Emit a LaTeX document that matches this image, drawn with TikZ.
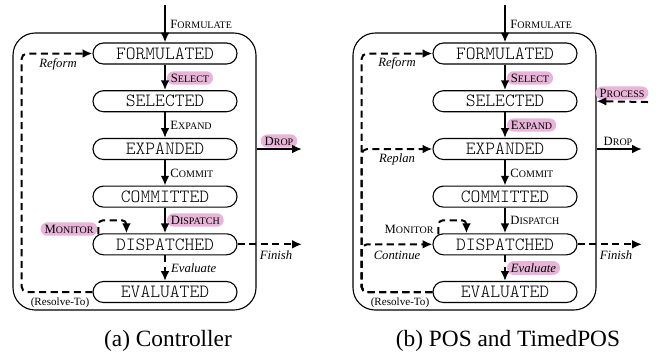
\documentclass[tikz,border=0pt]{standalone}
\usepackage{fontspec}
\setmainfont{Liberation Serif}
\newfontfamily\statefont{Latin Modern Mono Light}
\usetikzlibrary{arrows.meta,calc}
\definecolor{hlpink}{RGB}{232,180,216}
\newcommand\fsc[2]{{\fontsize{5.7}{6.5}\selectfont #1\fontsize{4.5}{5}\selectfont #2}}
\begin{document}
\begin{tikzpicture}[x=0.45pt,y=-0.45pt,
 state/.style={draw, line width=0.5pt, rounded corners=4.7pt, minimum width=64.8pt, minimum height=9.45pt, inner sep=0pt, font=\statefont\fontsize{8.4}{9}\selectfont},
 outerbox/.style={draw, line width=0.5pt, rounded corners=10pt, minimum width=109.35pt, minimum height=124.65pt, inner sep=0pt},
 arr/.style={line width=0.9pt, -{Latex[length=4.4pt,width=3.9pt]}},
 darr/.style={arr, dash pattern=on 3.2pt off 2pt},
 lbl/.style={inner xsep=1.8pt, inner ysep=1.1pt, rounded corners=3pt},
 hl/.style={lbl, fill=hlpink},
 itl/.style={font=\itshape\fontsize{5.7}{6.5}\selectfont, inner sep=1pt},
 tiny/.style={font=\fontsize{5}{6}\selectfont, inner sep=1pt},
 capt/.style={font=\fontsize{10.5}{12}\selectfont, anchor=base}
]
\useasboundingbox (0,0) rectangle (665,353);

% ---------------- panel (a) ----------------
\node[outerbox] (aBox) at (134.5,171.5) {};
\node[state] (aF) at (165,53.5) {FORMULATED};
\node[state] (aS) at (165,101.2) {SELECTED};
\node[state] (aX) at (165,149) {EXPANDED};
\node[state] (aC) at (165,196.6) {COMMITTED};
\node[state] (aD) at (165,244.3) {DISPATCHED};
\node[state] (aE) at (165,292) {EVALUATED};
\coordinate (aTop) at (165,5);
\coordinate (aL) at (21.5,0);
\coordinate (aDrop) at (302,149);
\coordinate (aFin) at (302,244.3);

\node[lbl, anchor=west] (aLf) at (166,24) {\fsc{F}{ORMULATE}};
\node[hl, anchor=west] (aLs) at (166.5,78) {\fsc{S}{ELECT}};
\node[lbl, anchor=west] (aLx) at (166,125) {\fsc{E}{XPAND}};
\node[lbl, anchor=west] (aLc) at (166,173) {\fsc{C}{OMMIT}};
\node[hl, anchor=west] (aLd) at (166.5,220) {\fsc{D}{ISPATCH}};
\node[itl, anchor=west] (aLe) at (168.5,268) {Evaluate};
\node[hl] (aLdrop) at (279,141) {\fsc{D}{ROP}};
\node[hl] (aLm) at (69,229) {\fsc{M}{ONITOR}};
\node[itl] (aLr) at (58,64) {Reform};
\node[itl] (aLfin) at (276,255) {Finish};
\node[tiny] (aLres) at (60,303) {(Resolve-To)};

\draw[arr] (aTop) -- (aF);
\draw[arr] (aF) -- (aS);
\draw[arr] (aS) -- (aX);
\draw[arr] (aX) -- (aC);
\draw[arr] (aC) -- (aD);
\draw[darr] (aD) -- (aE);
\draw[arr] (aBox.east |- aX) -- (aDrop);
\draw[darr] (aD.east) -- (aFin);
\draw[darr, rounded corners=2.5pt] (aE.west) -- (aE.west -| aL) -- (aF.west -| aL) -- (aF.west);
\draw[darr, rounded corners=2pt] ($(aD.north west)+(6,1)$) -- ++(0,-14) -- ($(aD.north west)+(34,-13)$) -- ($(aD.north west)+(34,0)$);

\node[capt] (aCap) at (168,346.5) {(a) Controller};

% ---------------- panel (b) ----------------
\begin{scope}[shift={(340,0)}]
\node[outerbox] (bBox) at (134.5,171.5) {};
\node[state] (bF) at (165,53.5) {FORMULATED};
\node[state] (bS) at (165,101.2) {SELECTED};
\node[state] (bX) at (165,149) {EXPANDED};
\node[state] (bC) at (165,196.6) {COMMITTED};
\node[state] (bD) at (165,244.3) {DISPATCHED};
\node[state] (bE) at (165,292) {EVALUATED};
\coordinate (bTop) at (165,5);
\coordinate (bL) at (21.5,0);
\coordinate (bDrop) at (302,149);
\coordinate (bFin) at (302,244.3);
\coordinate (bProc) at (308,102);

\node[lbl, anchor=west] (bLf) at (166,24) {\fsc{F}{ORMULATE}};
\node[hl, anchor=west] (bLs) at (166.5,78) {\fsc{S}{ELECT}};
\node[hl, anchor=west] (bLx) at (166.5,125) {\fsc{E}{XPAND}};
\node[lbl, anchor=west] (bLc) at (166,173) {\fsc{C}{OMMIT}};
\node[lbl, anchor=west] (bLd) at (166,220) {\fsc{D}{ISPATCH}};
\node[hl, anchor=west, font=\itshape\fontsize{5.7}{6.5}\selectfont] (bLe) at (166.5,268) {Evaluate};
\node[lbl] (bLdrop) at (278,141) {\fsc{D}{ROP}};
\node[hl] (bLp) at (282,93) {\fsc{P}{ROCESS}};
\node[lbl] (bLm) at (69,229) {\fsc{M}{ONITOR}};
\node[itl] (bLr) at (57,63) {Reform};
\node[itl] (bLrp) at (57,159) {Replan};
\node[itl] (bLco) at (57,255) {Continue};
\node[itl] (bLfin) at (276,255) {Finish};
\node[tiny] (bLres) at (60,303) {(Resolve-To)};

\draw[arr] (bTop) -- (bF);
\draw[arr] (bF) -- (bS);
\draw[arr] (bS) -- (bX);
\draw[arr] (bX) -- (bC);
\draw[arr] (bC) -- (bD);
\draw[darr] (bD) -- (bE);
\draw[arr] (bBox.east |- bX) -- (bDrop);
\draw[darr] (bProc) -- (bBox.east |- bS);
\draw[darr] (bD.east) -- (bFin);
\draw[darr, rounded corners=2.5pt] (bE.west) -- (bE.west -| bL) -- (bF.west -| bL) -- (bF.west);
\draw[darr, rounded corners=2.5pt] (bE.west) -- (bE.west -| bL) -- (bX.west -| bL) -- (bX.west);
\draw[darr, rounded corners=2.5pt] (bE.west) -- (bE.west -| bL) -- (bD.west -| bL) -- (bD.west);
\draw[darr, rounded corners=2pt] ($(bD.north west)+(6,1)$) -- ++(0,-14) -- ($(bD.north west)+(34,-13)$) -- ($(bD.north west)+(34,0)$);

\node[capt] (bCap) at (168,346.5) {(b) POS and TimedPOS};
\end{scope}
\end{tikzpicture}
\end{document}
